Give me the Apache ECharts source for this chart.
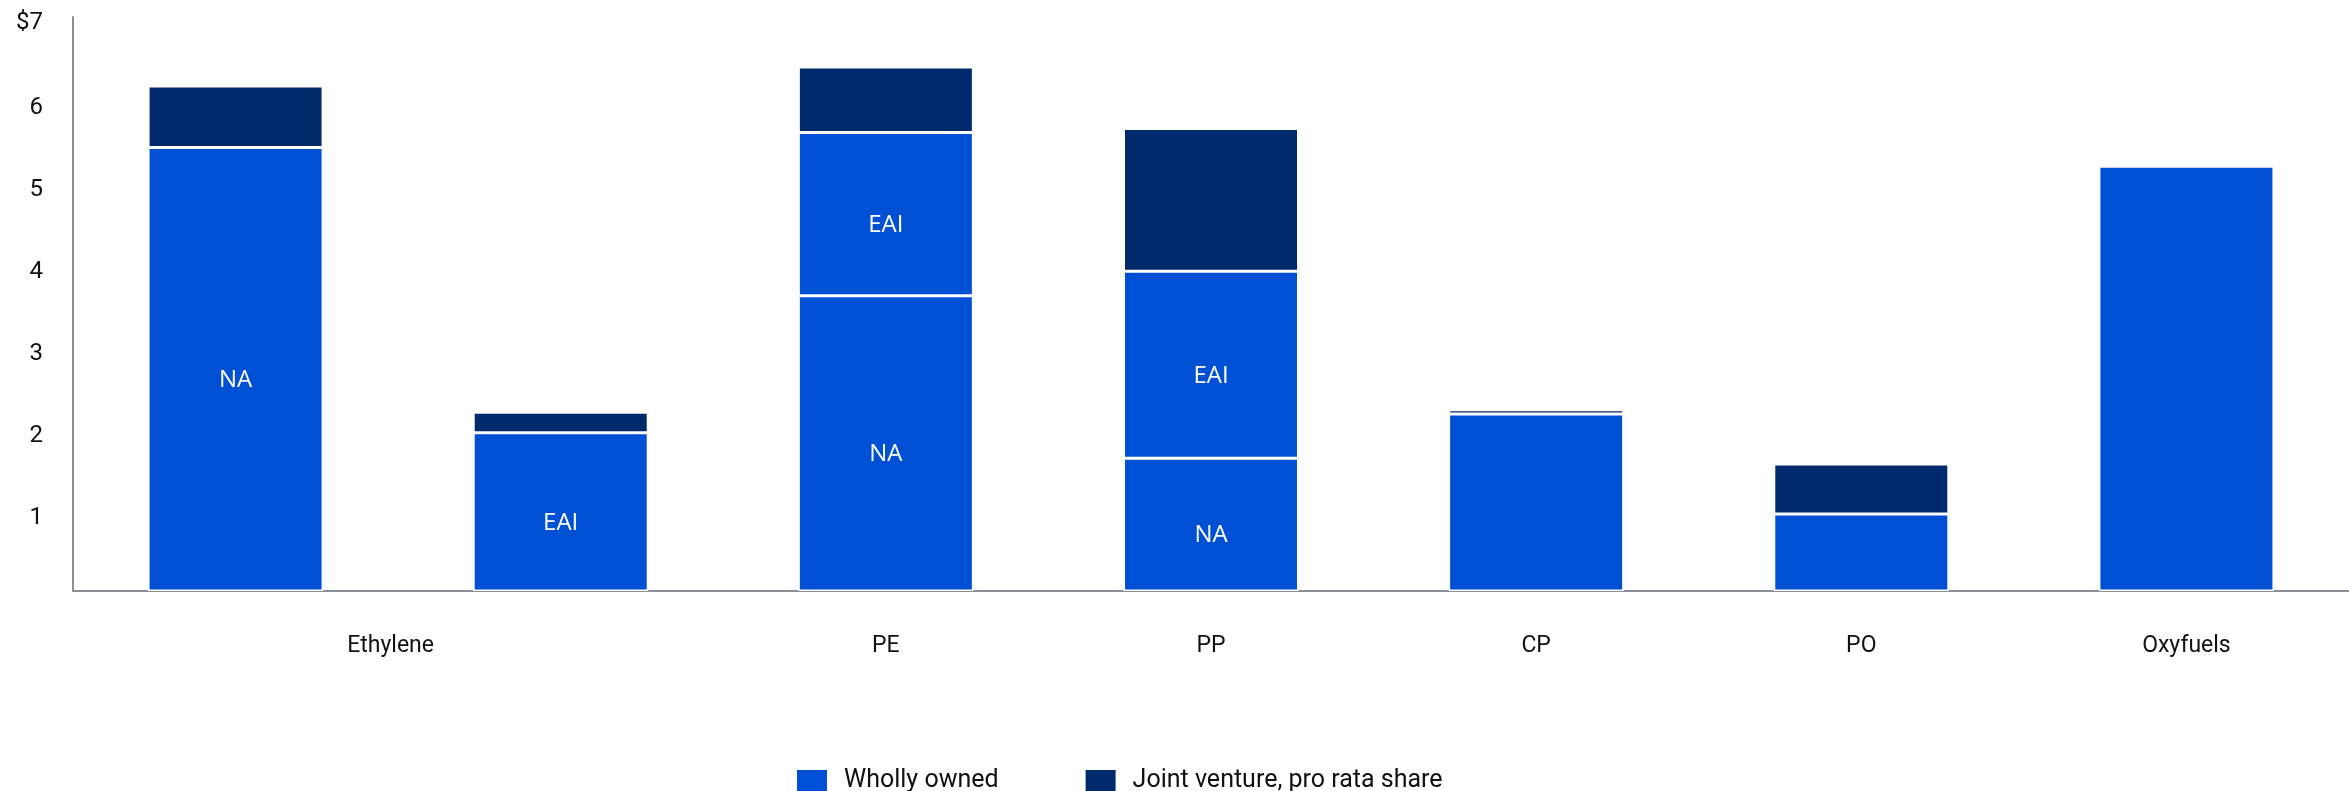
<!DOCTYPE html>
<html>
<head>
<meta charset="utf-8">
<script src="https://cdn.jsdelivr.net/npm/echarts@6/dist/echarts.min.js"></script>
<style>
html,body{margin:0;padding:0;background:#fff;}
#chart{width:2349px;height:791px;}
</style>
</head>
<body>
<div id="chart"></div>
<script>
// Data
const categories = ['Ethylene', 'Ethylene EAI', 'PE', 'PP', 'CP', 'PO', 'Oxyfuels'];
const categoryLabels = ['Ethylene', '', 'PE', 'PP', 'CP', 'PO', 'Oxyfuels'];
const whollyNA = [5.41, '-', 3.60, 1.62, '-', '-', '-'];
const whollyEAI = ['-', 1.93, 1.99, 2.28, '-', '-', '-'];
const whollyOther = ['-', '-', '-', '-', 2.16, 0.94, 5.18];
const jointVenture = [0.75, 0.25, 0.80, 1.74, 0.05, 0.61, '-'];
const yTickLabels = {0: '', 1: '1', 2: '2', 3: '3', 4: '4', 5: '5', 6: '6', 7: '$7'};

const BLUE = '#0050d6';
const NAVY = '#002a6c';
const FONT = 'Roboto';

const chart = echarts.init(document.getElementById('chart'));

const barCommon = {
  type: 'bar',
  stack: 'total',
  barWidth: 175,
  emphasis: { disabled: true }
};
const segStyle = (color) => ({ color: color, borderColor: '#ffffff', borderWidth: 1.5 });
const segLabel = (text) => ({
  show: true,
  position: 'inside',
  formatter: text,
  color: '#ffffff',
  fontFamily: 'Open Sans',
  fontSize: 24,
  offset: [0, 11]
});

chart.setOption({
  animation: false,
  backgroundColor: '#ffffff',
  grid: { left: 73, right: -11, top: 17, bottom: 200 },
  legend: {
    data: ['Wholly owned', 'Joint venture, pro rata share'],
    left: 792,
    top: 763,
    itemWidth: 30,
    itemHeight: 21,
    itemGap: 87,
    icon: 'rect',
    itemStyle: { borderWidth: 0 },
    textStyle: { fontFamily: FONT, fontSize: 25, color: '#111111', padding: [0, 0, 0, 12] }
  },
  xAxis: {
    type: 'category',
    data: categories,
    axisLine: { show: true, lineStyle: { color: '#8a8f99', width: 2 } },
    axisTick: { show: false },
    axisLabel: {
      interval: 0,
      margin: 44,
      fontFamily: FONT,
      fontSize: 23,
      color: '#111111',
      formatter: function (v, i) {
        return i === 0 ? '{shift|' + categoryLabels[i] + '}' : categoryLabels[i];
      },
      rich: {
        shift: { fontFamily: FONT, fontSize: 23, color: '#111111', padding: [0, 0, 0, 310] }
      }
    }
  },
  yAxis: {
    type: 'value',
    min: 0,
    max: 7,
    interval: 1,
    splitLine: { show: false },
    axisLine: { show: true, lineStyle: { color: '#8a8f99', width: 2 } },
    axisTick: { show: false },
    axisLabel: {
      margin: 30,
      fontFamily: FONT,
      fontSize: 24,
      color: '#111111',
      formatter: function (v) {
        return v === 7 ? '{top|' + yTickLabels[v] + '}' : '{n|' + yTickLabels[v] + '}';
      },
      rich: {
        n: { fontFamily: FONT, fontSize: 24, color: '#111111', padding: [18, 0, 0, 0] },
        top: { fontFamily: FONT, fontSize: 24, color: '#111111', padding: [12, 0, 0, 0] }
      }
    }
  },
  series: [
    Object.assign({}, barCommon, { name: 'Wholly owned', data: whollyNA, itemStyle: segStyle(BLUE), label: segLabel('NA') }),
    Object.assign({}, barCommon, { name: 'Wholly owned', data: whollyEAI, itemStyle: segStyle(BLUE), label: segLabel('EAI') }),
    Object.assign({}, barCommon, { name: 'Wholly owned', data: whollyOther, itemStyle: segStyle(BLUE) }),
    Object.assign({}, barCommon, { name: 'Joint venture, pro rata share', data: jointVenture, itemStyle: segStyle(NAVY) })
  ]
});
</script>
</body>
</html>
